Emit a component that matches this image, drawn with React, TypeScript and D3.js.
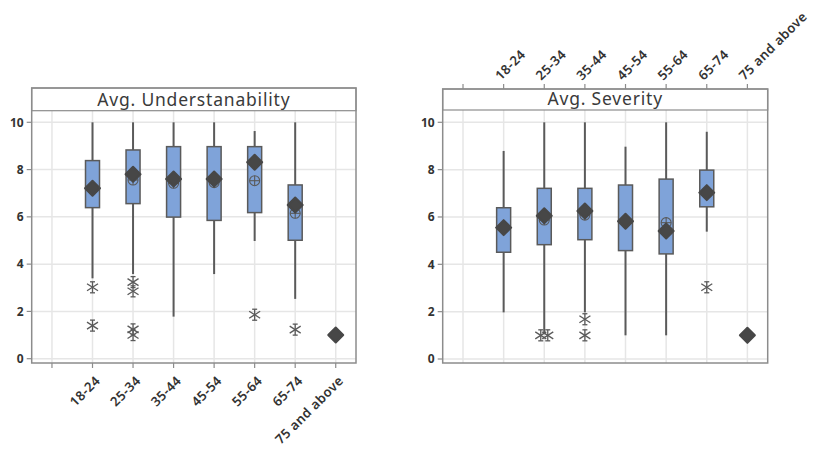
import React from "react";
import * as d3 from "d3";

const categories = ["", "18-24", "25-34", "35-44", "45-54", "55-64", "65-74", "75 and above"];
const yTicks = [0, 2, 4, 6, 8, 10];

type Box = { cat: string; lo: number; q1: number; q3: number; hi: number; mean: number; median: number; outliers: number[] } | { cat: string; point: number };

const understandability: Box[] = [
  { cat: "18-24", lo: 3.4, q1: 6.39, q3: 8.38, hi: 10, mean: 7.21, median: 7.2, outliers: [3.02, 1.4] },
  { cat: "25-34", lo: 3.58, q1: 6.56, q3: 8.83, hi: 10, mean: 7.8, median: 7.56, outliers: [3.24, 2.85, 1.24, 1.0] },
  { cat: "35-44", lo: 1.78, q1: 5.99, q3: 8.97, hi: 10, mean: 7.6, median: 7.42, outliers: [] },
  { cat: "45-54", lo: 3.58, q1: 5.85, q3: 8.97, hi: 10, mean: 7.6, median: 7.45, outliers: [] },
  { cat: "55-64", lo: 4.98, q1: 6.18, q3: 8.97, hi: 9.63, mean: 8.31, median: 7.53, outliers: [1.86] },
  { cat: "65-74", lo: 2.53, q1: 5.01, q3: 7.35, hi: 10, mean: 6.5, median: 6.15, outliers: [1.23] },
  { cat: "75 and above", point: 1.0 },
];

const severity: Box[] = [
  { cat: "18-24", lo: 1.97, q1: 4.51, q3: 6.39, hi: 8.79, mean: 5.55, median: 5.55, outliers: [] },
  { cat: "25-34", lo: 1.05, q1: 4.83, q3: 7.21, hi: 10, mean: 6.05, median: 5.87, outliers: [1.0, 1.0] },
  { cat: "35-44", lo: 1.97, q1: 5.04, q3: 7.21, hi: 10, mean: 6.25, median: 6.08, outliers: [1.68, 1.0] },
  { cat: "45-54", lo: 1.0, q1: 4.58, q3: 7.35, hi: 8.97, mean: 5.82, median: 5.82, outliers: [] },
  { cat: "55-64", lo: 1.0, q1: 4.44, q3: 7.6, hi: 10, mean: 5.41, median: 5.76, outliers: [] },
  { cat: "65-74", lo: 5.38, q1: 6.43, q3: 7.98, hi: 9.6, mean: 7.03, median: 7.03, outliers: [3.03] },
  { cat: "75 and above", point: 1.0 },
];

const FONT = "'Noto Sans', 'Open Sans', sans-serif";
const STROKE = "#5a5a5a";
const FILL = "#7fa3d9";
const DARK = "#474747";
const GRID = "#e6e6e6";
const FRAME = "#8c8c8c";

function Asterisk({ x, y }: { x: number; y: number }) {
  const h = 5.5;
  const w = 5.5;
  const dy = 3.5;
  return (
    <g stroke={STROKE} strokeWidth={1.3}>
      <line x1={x} y1={y - h} x2={x} y2={y + h} />
      <line x1={x - w} y1={y - dy} x2={x + w} y2={y + dy} />
      <line x1={x - w} y1={y + dy} x2={x + w} y2={y - dy} />
      <line x1={x - 2.5} y1={y - h} x2={x + 2.5} y2={y - h} />
      <line x1={x - 2.5} y1={y + h} x2={x + 2.5} y2={y + h} />
    </g>
  );
}

function CirclePlus({ x, y }: { x: number; y: number }) {
  const r = 5;
  return (
    <g stroke={STROKE} strokeWidth={1.1} fill="none">
      <circle cx={x} cy={y} r={r} />
      <line x1={x - r} y1={y} x2={x + r} y2={y} />
      <line x1={x} y1={y - r} x2={x} y2={y + r} />
    </g>
  );
}

function Diamond({ x, y }: { x: number; y: number }) {
  const r = 7.5;
  return (
    <path
      d={`M${x},${y - r}L${x + r},${y}L${x},${y + r}L${x - r},${y}Z`}
      fill={DARK}
      stroke={DARK}
      strokeWidth={2}
      strokeLinejoin="round"
    />
  );
}

function Panel({
  left,
  right,
  headerTop,
  headerBottom,
  plotBottom,
  yTop,
  yZero,
  title,
  data,
  labelsTop,
}: {
  left: number;
  right: number;
  headerTop: number;
  headerBottom: number;
  plotBottom: number;
  yTop: number;
  yZero: number;
  title: string;
  data: Box[];
  labelsTop: boolean;
}) {
  const x = d3.scaleBand<string>().domain(categories).range([left, right]).padding(0);
  const cx = (c: string) => (x(c) as number) + x.bandwidth() / 2;
  const y = d3.scaleLinear().domain([0, 10]).range([yZero, yTop]);
  const bw = 14;

  return (
    <g>
      {yTicks.map((t) => (
        <line key={"gy" + t} x1={left} x2={right} y1={y(t)} y2={y(t)} stroke={GRID} strokeWidth={1.5} />
      ))}
      {categories.map((c) => (
        <line key={"gx" + c} x1={cx(c)} x2={cx(c)} y1={headerBottom} y2={plotBottom} stroke={GRID} strokeWidth={1.5} />
      ))}
      <rect x={left} y={headerTop} width={right - left} height={headerBottom - headerTop} fill="#fff" stroke={FRAME} strokeWidth={1.2} />
      <text
        x={(left + right) / 2}
        y={headerBottom - 5}
        textAnchor="middle"
        fontFamily={FONT}
        fontSize={17.5}
        letterSpacing={0.8}
        fill="#3a3a3a"
      >
        {title}
      </text>
      <rect x={left} y={headerTop} width={right - left} height={plotBottom - headerTop} fill="none" stroke={FRAME} strokeWidth={1.5} />
      {yTicks.map((t) => (
        <g key={"yt" + t}>
          <line x1={left - 5} x2={left} y1={y(t)} y2={y(t)} stroke={FRAME} strokeWidth={1.2} />
          <text
            x={left - 8}
            y={y(t)}
            dy="0.35em"
            textAnchor="end"
            fontFamily={FONT}
            fontSize={12}
            fontWeight={700}
            fill="#333"
          >
            {t}
          </text>
        </g>
      ))}
      {categories.map((c) => {
        const px = cx(c);
        if (labelsTop) {
          return (
            <g key={"xt" + c}>
              <line x1={px} x2={px} y1={headerTop - 5} y2={headerTop} stroke={FRAME} strokeWidth={1.2} />
              <text
                transform={`translate(${px - 3},${headerTop - 8}) rotate(-45)`}
                textAnchor="start"
                fontFamily={FONT}
                fontSize={13.2}
                fontWeight={600}
                letterSpacing={0.4}
                fill="#333"
              >
                {c}
              </text>
            </g>
          );
        }
        return (
          <g key={"xt" + c}>
            <line x1={px} x2={px} y1={plotBottom} y2={plotBottom + 5} stroke={FRAME} strokeWidth={1.2} />
            <text
              transform={`translate(${px + 2},${plotBottom + 12}) rotate(-45)`}
              textAnchor="end"
              dy="0.7em"
              fontFamily={FONT}
              fontSize={13.2}
              fontWeight={600}
              letterSpacing={0.4}
              fill="#333"
            >
              {c}
            </text>
          </g>
        );
      })}
      {data.map((b) => {
        const px = cx(b.cat);
        if ("point" in b) {
          return <Diamond key={b.cat} x={px} y={y(b.point)} />;
        }
        const seen: Record<string, number> = {};
        const counts: Record<string, number> = {};
        b.outliers.forEach((o) => (counts[o.toFixed(2)] = (counts[o.toFixed(2)] || 0) + 1));
        return (
          <g key={b.cat}>
            <line x1={px} x2={px} y1={y(b.hi)} y2={y(b.q3)} stroke={STROKE} strokeWidth={2} />
            <line x1={px} x2={px} y1={y(b.q1)} y2={y(b.lo)} stroke={STROKE} strokeWidth={2} />
            <rect
              x={px - bw / 2}
              y={y(b.q3)}
              width={bw}
              height={y(b.q1) - y(b.q3)}
              fill={FILL}
              stroke={STROKE}
              strokeWidth={1.5}
            />
            <CirclePlus x={px} y={y(b.median)} />
            <Diamond x={px} y={y(b.mean)} />
            {b.outliers.map((o, i) => {
              const k = o.toFixed(2);
              const n = counts[k];
              const idx = seen[k] || 0;
              seen[k] = idx + 1;
              const off = n > 1 ? (idx - (n - 1) / 2) * 7 : 0;
              return <Asterisk key={i} x={px + off} y={y(o)} />;
            })}
          </g>
        );
      })}
    </g>
  );
}

export default function App() {
  return (
    <svg width={813} height={450} style={{ position: "absolute", left: 0, top: 0, background: "#fff" }}>
      <rect width={813} height={450} fill="#fff" />
      <Panel
        left={31.7}
        right={356}
        headerTop={88}
        headerBottom={110.7}
        plotBottom={363}
        yTop={122.3}
        yZero={358.7}
        title="Avg. Understanability"
        data={understandability}
        labelsTop={false}
      />
      <Panel
        left={442.7}
        right={767.7}
        headerTop={89}
        headerBottom={110}
        plotBottom={363}
        yTop={122.3}
        yZero={359}
        title="Avg. Severity"
        data={severity}
        labelsTop={true}
      />
    </svg>
  );
}
